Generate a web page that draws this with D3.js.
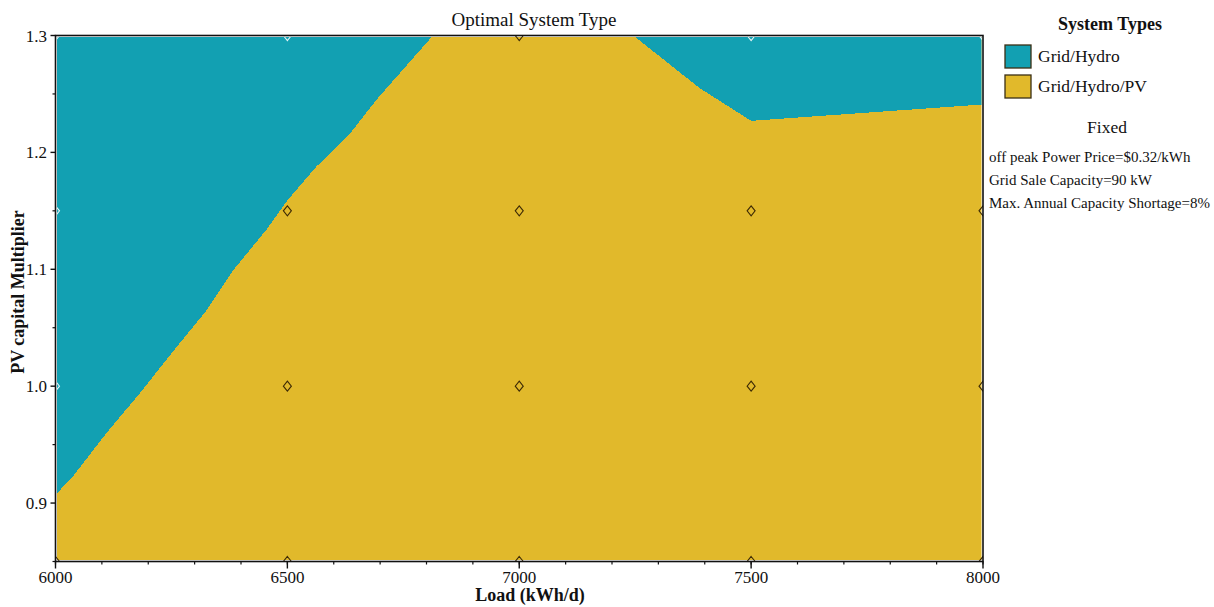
<!DOCTYPE html>
<html>
<head>
<meta charset="utf-8">
<script src="https://cdn.jsdelivr.net/npm/d3@7"></script>
<style>
  html, body { margin: 0; padding: 0; background: #ffffff; }
  svg { display: block; }
  text { font-family: "Liberation Serif", "Times New Roman", serif; fill: #111; }
</style>
</head>
<body>
<svg id="chart" width="1214" height="607"></svg>
<script>
// Simulated sweep points
const loads = [6000, 6500, 7000, 7500, 8000];          // kWh/d
const multipliers = [0.85, 1.0, 1.15, 1.3];             // PV capital multiplier
const systemTypes = ["Grid/Hydro", "Grid/Hydro/PV"];
const typeColors = ["#12a0b2", "#e1b92b"];
// Optimal system (index into systemTypes) at each sweep point, one row per multiplier
const optimalAtPoint = [
  [1, 1, 1, 1, 1],   // 0.85
  [0, 1, 1, 1, 1],   // 1.00
  [0, 1, 1, 1, 1],   // 1.15
  [0, 0, 1, 0, 0]    // 1.30
];

// Boundary between Grid/Hydro (above) and Grid/Hydro/PV (below), left region
const leftBoundaryLoad = [6000, 6038, 6110, 6182, 6254, 6326, 6383, 6455, 6500, 6563, 6635, 6692, 6814];
const leftBoundaryMult = [0.907, 0.923, 0.960, 0.994, 1.030, 1.065, 1.099, 1.134, 1.159, 1.188, 1.216, 1.245, 1.300];
// Boundary of the upper-right Grid/Hydro region
const rightBoundaryLoad = [7246, 7389, 7500, 8000];
const rightBoundaryMult = [1.300, 1.255, 1.227, 1.241];

const xTicks = [6000, 6500, 7000, 7500, 8000];
const xMinorTicks = d3.range(6000, 8001, 100);
const yTicks = [0.9, 1.0, 1.1, 1.2, 1.3];
const yMinorTicks = [0.85, 0.95, 1.05, 1.15, 1.25];
const fixedNotes = [
  "off peak Power Price=$0.32/kWh",
  "Grid Sale Capacity=90 kW",
  "Max. Annual Capacity Shortage=8%"
];

const svg = d3.select("#chart");
const x = d3.scaleLinear().domain([6000, 8000]).range([55.5, 983]);
const y = d3.scaleLinear().domain([0.85, 1.3]).range([561.5, 35.5]);

const x0 = x.range()[0], x1 = x.range()[1];
const yTop = y.range()[1], yBot = y.range()[0];

// clip for the filled map: slightly inset so a thin white rim shows inside the frame
const defs = svg.append("defs");
defs.append("clipPath").attr("id", "inner")
  .append("rect")
  .attr("x", x0 + 1.5).attr("y", yTop + 1.5)
  .attr("width", x1 - x0 - 3).attr("height", yBot - yTop - 3);
defs.append("clipPath").attr("id", "frame")
  .append("rect")
  .attr("x", x0).attr("y", yTop)
  .attr("width", x1 - x0).attr("height", yBot - yTop);

const map = svg.append("g").attr("clip-path", "url(#inner)");

// whole domain starts as Grid/Hydro/PV
map.append("rect")
  .attr("x", x(6000)).attr("y", y(1.3))
  .attr("width", x(8000) - x(6000)).attr("height", y(0.85) - y(1.3))
  .attr("fill", typeColors[1]);

const line = d3.line().x(d => x(d[0])).y(d => y(d[1]));

const leftRegion = [[6000, 1.3]].concat(leftBoundaryLoad.map((l, i) => [l, leftBoundaryMult[i]]));
map.append("path")
  .attr("d", line(leftRegion) + "Z")
  .attr("fill", typeColors[0])
  .attr("shape-rendering", "crispEdges");

const rightRegion = rightBoundaryLoad.map((l, i) => [l, rightBoundaryMult[i]]).concat([[8000, 1.3]]);
map.append("path")
  .attr("d", line(rightRegion) + "Z")
  .attr("fill", typeColors[0])
  .attr("shape-rendering", "crispEdges");

// sweep point markers (diamonds)
const pts = [];
multipliers.forEach((m, i) => loads.forEach((l, j) => pts.push({ l, m, t: optimalAtPoint[i][j] })));
svg.append("g").attr("clip-path", "url(#frame)")
  .selectAll("path.pt").data(pts).join("path")
  .attr("class", "pt")
  .attr("transform", d => `translate(${x(d.l)},${y(d.m)})`)
  .attr("d", "M0,-5L4,0L0,5L-4,0Z")
  .attr("fill", "none")
  .attr("stroke", d => d.t === 0 ? "#e6f5f7" : "#3d2a05")
  .attr("stroke-width", 1.1);

// frame
svg.append("rect")
  .attr("x", x0).attr("y", yTop)
  .attr("width", x1 - x0).attr("height", yBot - yTop)
  .attr("fill", "none").attr("stroke", "#111").attr("stroke-width", 1.6);

// x axis
const xAxis = svg.append("g");
xAxis.selectAll("line.minor").data(xMinorTicks).join("line")
  .attr("x1", d => x(d)).attr("x2", d => x(d))
  .attr("y1", yBot).attr("y2", yBot + 3)
  .attr("stroke", "#111").attr("stroke-width", 1.2);
xAxis.selectAll("line.major").data(xTicks).join("line")
  .attr("x1", d => x(d)).attr("x2", d => x(d))
  .attr("y1", yBot).attr("y2", yBot + 7)
  .attr("stroke", "#111").attr("stroke-width", 1.4);
xAxis.selectAll("text").data(xTicks).join("text")
  .attr("x", d => x(d)).attr("y", 583)
  .attr("text-anchor", "middle")
  .style("font-size", "17px")
  .text(d => d);

// y axis
const yAxis = svg.append("g");
yAxis.selectAll("line.minor").data(yMinorTicks).join("line")
  .attr("x1", x0 - 3).attr("x2", x0)
  .attr("y1", d => y(d)).attr("y2", d => y(d))
  .attr("stroke", "#111").attr("stroke-width", 1.2);
yAxis.selectAll("line.major").data(yTicks).join("line")
  .attr("x1", x0 - 5).attr("x2", x0)
  .attr("y1", d => y(d)).attr("y2", d => y(d))
  .attr("stroke", "#111").attr("stroke-width", 1.4);
yAxis.selectAll("text").data(yTicks).join("text")
  .attr("x", 47).attr("y", d => y(d) + 6)
  .attr("text-anchor", "end")
  .style("font-size", "17px")
  .text(d => d.toFixed(1));

// titles
svg.append("text")
  .attr("x", 534).attr("y", 26)
  .attr("text-anchor", "middle")
  .style("font-size", "19px")
  .text("Optimal System Type");
svg.append("text")
  .attr("x", 530).attr("y", 601)
  .attr("text-anchor", "middle")
  .style("font-size", "18px").style("font-weight", "bold")
  .text("Load (kWh/d)");
svg.append("text")
  .attr("transform", "translate(24,292) rotate(-90)")
  .attr("text-anchor", "middle")
  .style("font-size", "18px").style("font-weight", "bold")
  .text("PV capital Multiplier");

// legend
const legend = svg.append("g");
legend.append("text")
  .attr("x", 1110).attr("y", 30)
  .attr("text-anchor", "middle")
  .style("font-size", "18px").style("font-weight", "bold")
  .text("System Types");
const items = legend.selectAll("g.item").data(systemTypes).join("g")
  .attr("class", "item")
  .attr("transform", (d, i) => `translate(1005,${45 + i * 30})`);
items.append("rect")
  .attr("width", 26).attr("height", 23)
  .attr("fill", (d, i) => typeColors[i])
  .attr("stroke", "#3a2e14").attr("stroke-width", 1.3);
items.append("text")
  .attr("x", 33).attr("y", 17)
  .style("font-size", "17.5px")
  .text(d => d);

legend.append("text")
  .attr("x", 1107).attr("y", 133)
  .attr("text-anchor", "middle")
  .style("font-size", "17.5px")
  .text("Fixed");
legend.selectAll("text.note").data(fixedNotes).join("text")
  .attr("class", "note")
  .attr("x", 989).attr("y", (d, i) => 162 + i * 23)
  .style("font-size", "15px")
  .text(d => d);
</script>
</body>
</html>
